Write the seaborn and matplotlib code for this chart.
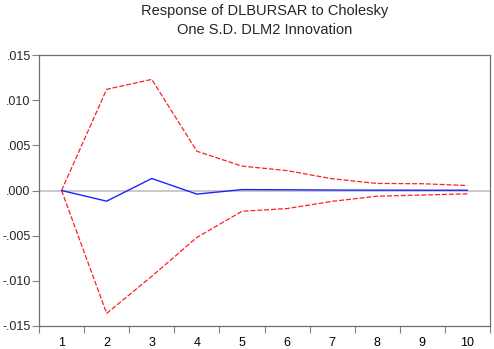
import matplotlib
matplotlib.use("Agg")
import matplotlib.pyplot as plt
import seaborn as sns
import pandas as pd
from matplotlib.ticker import FixedLocator, FuncFormatter, NullFormatter

periods = [1, 2, 3, 4, 5, 6, 7, 8, 9, 10]
response = [0.0, -0.00118, 0.00133, -0.0004, 0.0001, 0.00008, 0.00005, 0.00004, 0.00003, 0.00003]
upper = [0.0, 0.0112, 0.0123, 0.00435, 0.0027, 0.0022, 0.0013, 0.00078, 0.00075, 0.00055]
lower = [0.0, -0.0136, -0.0095, -0.0052, -0.0023, -0.0020, -0.0012, -0.00063, -0.0005, -0.00037]
ytick_vals = [-0.015, -0.010, -0.005, 0.0, 0.005, 0.010, 0.015]
title = "Response of DLBURSAR to Cholesky\nOne S.D. DLM2 Innovation"

sns.set_style("white")
plt.rcParams['font.family'] = ['Liberation Sans', 'DejaVu Sans']

df = pd.DataFrame({"period": periods, "response": response, "upper": upper, "lower": lower})

fig = plt.figure(figsize=(4.94, 3.49), dpi=100)
ax = fig.add_axes([39/494, 1 - 326/349, (490-39)/494, (326-55)/349])

ax.axhline(0, color="#c0c0c0", lw=1.2, zorder=1)
sns.lineplot(data=df, x="period", y="upper", ax=ax, color="#ff2020", lw=0.9, linestyle=(0, (4, 1.5)), zorder=3)
sns.lineplot(data=df, x="period", y="lower", ax=ax, color="#ff2020", lw=0.9, linestyle=(0, (4, 1.5)), zorder=3)
sns.lineplot(data=df, x="period", y="response", ax=ax, color="#2020ff", lw=1.0, zorder=4)

ax.set_xlim(0.5, 10.5)
ax.set_ylim(-0.015, 0.015)
ax.set_xlabel("")
ax.set_ylabel("")

ax.xaxis.set_major_locator(FixedLocator(periods))
ax.xaxis.set_major_formatter(FuncFormatter(lambda v, p: f"{int(v)}"))
ax.xaxis.set_minor_locator(FixedLocator([p + 0.5 for p in [0] + periods]))
ax.tick_params(axis="x", which="major", length=0, labelsize=9, pad=8, colors="black")
ax.tick_params(axis="x", which="minor", length=5, width=0.8, color="#808080", direction="out")
ax.xaxis.set_minor_formatter(NullFormatter())

def yfmt(v, p):
    s = f"{v:.3f}"
    s = s.replace("0.", ".")
    if s == "-.000":
        s = ".000"
    return s

ax.yaxis.set_major_locator(FixedLocator(ytick_vals))
ax.yaxis.set_major_formatter(FuncFormatter(yfmt))
ax.tick_params(axis="y", which="major", length=5, width=0.8, color="#808080", direction="out", labelsize=9, pad=1)
ax.tick_params(left=True, bottom=False)
ax.tick_params(axis="x", which="minor", bottom=True)

for s in ax.spines.values():
    s.set_color("#707070")
    s.set_linewidth(0.9)
    s.set_visible(True)

fig.text((39 + 490) / 2 / 494, 1 - 4/349, title, ha="center", va="top",
         fontsize=10.5, linespacing=1.5)

fig.savefig("out.png", dpi=100)
